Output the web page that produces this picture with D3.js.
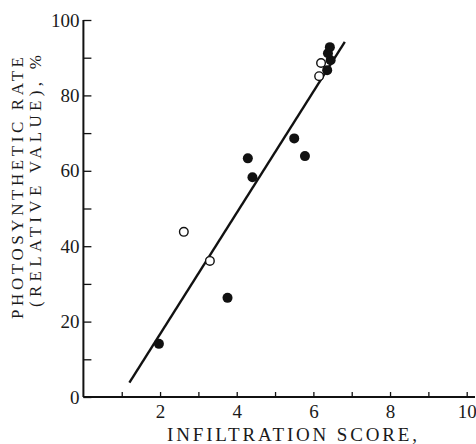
<!DOCTYPE html>
<html>
<head>
<meta charset="utf-8">
<script src="https://cdn.jsdelivr.net/npm/d3@7"></script>
<style>
  body { margin: 0; background: #fff; }
  svg text { font-family: "Liberation Serif", "DejaVu Serif", serif; fill: #1a1a1a; }
</style>
</head>
<body>
<div id="chart"></div>
<script>
// infiltration score vs photosynthetic rate (relative value, %)
const filledX = [1.97, 3.76, 4.29, 4.41, 5.50, 5.78, 6.36, 6.45, 6.38, 6.43];
const filledY = [14.1, 26.3, 63.3, 58.3, 68.6, 63.9, 86.7, 89.3, 91.2, 92.8];
const openX = [2.62, 3.30, 6.15, 6.20];
const openY = [43.8, 36.1, 85.1, 88.6];
const fitX = [1.2, 6.82];
const fitY = [3.8, 94.2];
const xTicks = [2, 4, 6, 8, 10];
const yTicks = [0, 20, 40, 60, 80, 100];

document.addEventListener("DOMContentLoaded", function () {
    const width = 476, height = 444;

    const svg = d3.select("#chart")
        .append("svg")
        .attr("width", width)
        .attr("height", height);

    const xScale = d3.scaleLinear().domain([0, 10]).range([83.4, 466.7]);
    const yScale = d3.scaleLinear().domain([0, 100]).range([397, 20]);

    // axis lines
    svg.append("line")
        .attr("x1", xScale(0)).attr("x2", xScale(0))
        .attr("y1", yScale(0)).attr("y2", yScale(100))
        .attr("stroke", "#111").attr("stroke-width", 2);
    svg.append("line")
        .attr("x1", xScale(0)).attr("x2", 475)
        .attr("y1", yScale(0)).attr("y2", yScale(0))
        .attr("stroke", "#111").attr("stroke-width", 2);

    // x axis ticks (inside, upward) and labels
    const xAxis = d3.axisBottom(xScale)
        .tickValues(d3.range(1, 11))
        .tickSize(-5)
        .tickFormat(d => xTicks.includes(d) ? d : "")
        .tickPadding(7.5);
    const gx = svg.append("g")
        .attr("transform", `translate(0, ${yScale(0)})`)
        .call(xAxis);
    gx.attr("font-family", null);
    gx.select(".domain").remove();
    gx.selectAll(".tick line").attr("stroke", "#111").attr("stroke-width", 1.3);
    gx.selectAll(".tick text")
        .attr("font-size", 19)
        .attr("fill", "#1a1a1a");

    // y axis ticks (inside, rightward) and labels
    const yAxis = d3.axisLeft(yScale)
        .tickValues(d3.range(0, 101, 10))
        .tickSize(-8)
        .tickFormat(d => yTicks.includes(d) ? d : "")
        .tickPadding(4);
    const gy = svg.append("g")
        .attr("transform", `translate(${xScale(0)}, 0)`)
        .call(yAxis);
    gy.attr("font-family", null);
    gy.select(".domain").remove();
    gy.selectAll(".tick line").attr("stroke", "#111").attr("stroke-width", 1.3);
    gy.selectAll(".tick text")
        .attr("font-size", 19)
        .attr("fill", "#1a1a1a");

    // fitted line
    const line = d3.line()
        .x(d => xScale(d[0]))
        .y(d => yScale(d[1]));
    svg.append("path")
        .datum(d3.zip(fitX, fitY))
        .attr("fill", "none")
        .attr("stroke", "#111")
        .attr("stroke-width", 2.4)
        .attr("d", line);

    // open circles
    svg.selectAll(".open")
        .data(d3.zip(openX, openY))
        .join("circle")
        .attr("class", "open")
        .attr("cx", d => xScale(d[0]))
        .attr("cy", d => yScale(d[1]))
        .attr("r", 4.3)
        .attr("fill", "#fff")
        .attr("stroke", "#111")
        .attr("stroke-width", 1.4);

    // filled circles
    svg.selectAll(".filled")
        .data(d3.zip(filledX, filledY))
        .join("circle")
        .attr("class", "filled")
        .attr("cx", d => xScale(d[0]))
        .attr("cy", d => yScale(d[1]))
        .attr("r", 5)
        .attr("fill", "#111");

    // axis titles
    svg.append("text")
        .attr("x", 292)
        .attr("y", 441)
        .attr("text-anchor", "middle")
        .attr("font-size", 19)
        .attr("textLength", 250)
        .text("INFILTRATION SCORE,");

    svg.append("text")
        .attr("transform", "translate(23, 188) rotate(-90)")
        .attr("text-anchor", "middle")
        .attr("font-size", 17)
        .attr("textLength", 262)
        .text("PHOTOSYNTHETIC RATE");

    svg.append("text")
        .attr("transform", "translate(41, 181) rotate(-90)")
        .attr("text-anchor", "middle")
        .attr("font-size", 17)
        .attr("textLength", 252)
        .text("(RELATIVE VALUE), %");
});
</script>
</body>
</html>
